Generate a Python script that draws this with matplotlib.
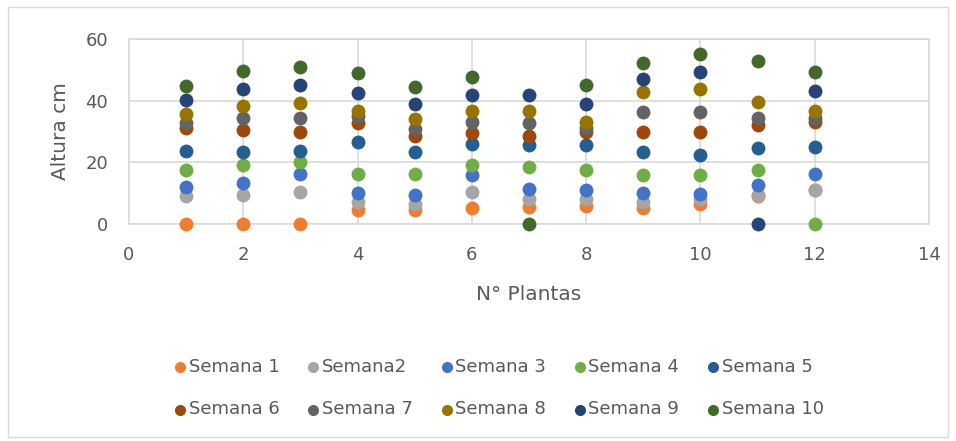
import matplotlib
matplotlib.use("Agg")
import matplotlib.pyplot as plt
from matplotlib.patches import Rectangle

plt.rcParams['font.family'] = ['DejaVu Sans']

plantas = [1, 2, 3, 4, 5, 6, 7, 8, 9, 10, 11, 12]

semana_1 = [0, 0, 0, 4.5, 4.5, 5.2, 5.5, 6, 5.2, 6.5, 9, 11]
semana_2 = [9, 9.5, 10.5, 7, 6.5, 10.5, 8, 8, 7.2, 8, 9.3, 11]
semana_3 = [12, 13.2, 16.3, 10, 9.5, 16, 11.2, 11, 10, 9.8, 12.5, 16.2]
semana_4 = [17.5, 19.2, 20, 16.2, 16.3, 19, 18.5, 17.6, 16, 16, 17.5, 0]
semana_5 = [23.8, 23.3, 23.7, 26.6, 23.3, 25.8, 25.7, 25.7, 23.2, 22.5, 24.5, 25]
semana_6 = [31, 30.5, 29.8, 32.8, 28.5, 29.5, 28.5, 29.7, 29.8, 29.8, 32, 33.2]
semana_7 = [32.8, 34.3, 34.3, 35, 30.8, 33, 32.8, 31.2, 36.2, 36.2, 34.4, 34.4]
semana_8 = [35.7, 38.2, 39.2, 36.8, 34, 36.5, 36.8, 33, 42.7, 43.8, 39.5, 36.5]
semana_9 = [40.2, 43.8, 45.2, 42.6, 38.9, 41.8, 42, 38.9, 47, 49.2, 0, 43]
semana_10 = [44.9, 49.7, 51, 48.9, 44.4, 47.8, 0, 45.1, 52.1, 55.1, 52.9, 49.3]

series = [semana_1, semana_2, semana_3, semana_4, semana_5,
          semana_6, semana_7, semana_8, semana_9, semana_10]
nombres = ["Semana 1", "Semana2", "Semana 3", "Semana 4", "Semana 5",
           "Semana 6", "Semana 7", "Semana 8", "Semana 9", "Semana 10"]
colores = ["#ED7D31", "#A5A5A5", "#4472C4", "#70AD47", "#255E91",
           "#9E480E", "#636363", "#997300", "#264478", "#43682B"]

fig = plt.figure(figsize=(9.56, 4.41), dpi=100)
ax = fig.add_axes([129 / 956, 1 - 224 / 441, 800 / 956, 185 / 441])

handles = []
for vals, nombre, color in zip(series, nombres, colores):
    h = ax.scatter(plantas, vals, s=100, color=color, label=nombre,
                   clip_on=False, zorder=3, linewidths=0)
    handles.append(h)

ax.set_xlim(0, 14)
ax.set_ylim(0, 60)
ax.set_xticks(range(0, 15, 2))
ax.set_yticks(range(0, 61, 20))
ax.grid(True, color="#D9D9D9", linewidth=1.2)
ax.set_axisbelow(True)
for sp in ax.spines.values():
    sp.set_color("#D9D9D9")
    sp.set_linewidth(1.2)
ax.tick_params(length=0, labelsize=13, labelcolor="#595959")
ax.tick_params(axis="y", pad=15)
ax.tick_params(axis="x", pad=16)
ax.set_xlabel("N° Plantas", fontsize=14.5, color="#595959", labelpad=15)
ax.set_ylabel("Altura cm", fontsize=14.5, color="#595959", labelpad=11)

# legend filled row by row: reorder for column-major layout
orden = [0, 5, 1, 6, 2, 7, 3, 8, 4, 9]
leg = fig.legend([handles[i] for i in orden], [nombres[i] for i in orden],
                 ncol=5, loc="center", bbox_to_anchor=(0.522, 0.12),
                 frameon=False, fontsize=13, labelcolor="#595959",
                 handletextpad=0.15, columnspacing=1.55, labelspacing=1.35,
                 handlelength=0.65, markerscale=0.8)

fig.patches.append(Rectangle((8 / 956, 4 / 441), 940 / 956, 430 / 441,
                             transform=fig.transFigure, fill=False,
                             edgecolor="#D9D9D9", linewidth=1))

fig.savefig("out.png", dpi=100)
